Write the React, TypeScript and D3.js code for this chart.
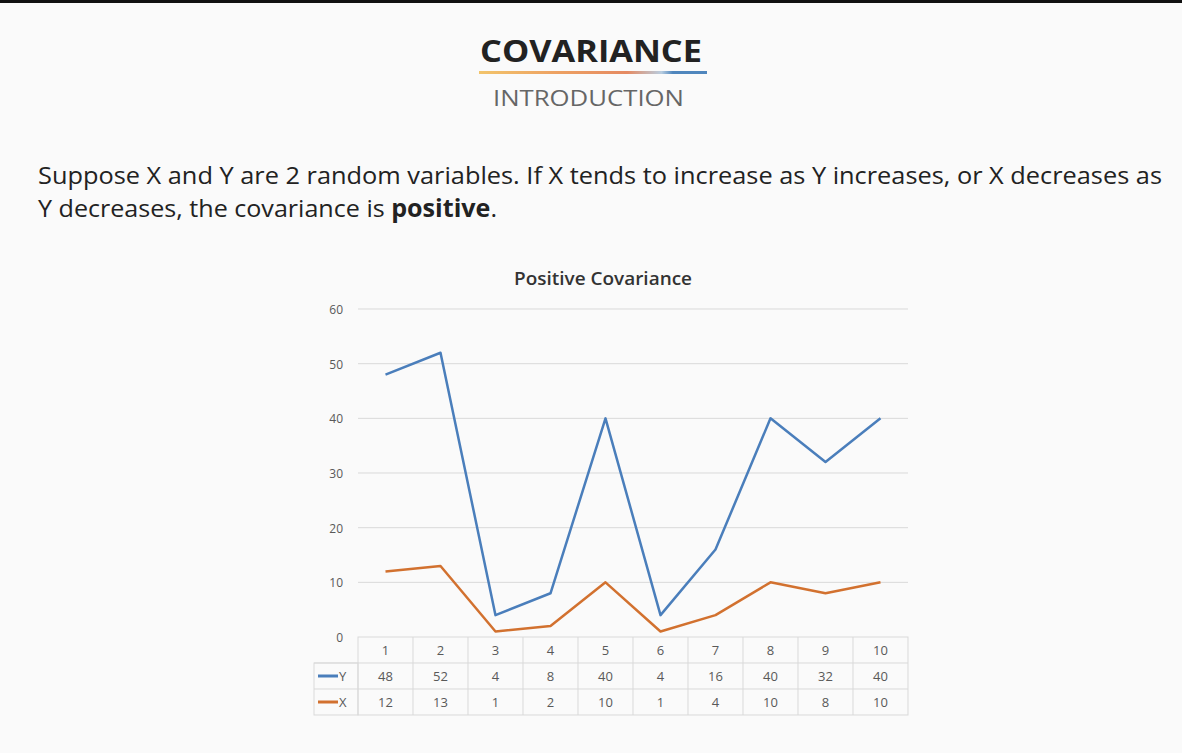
import * as d3 from "d3";

const categories = ["1", "2", "3", "4", "5", "6", "7", "8", "9", "10"];
const yValues = [48, 52, 4, 8, 40, 4, 16, 40, 32, 40];
const xValues = [12, 13, 1, 2, 10, 1, 4, 10, 8, 10];
const yTicks = [0, 10, 20, 30, 40, 50, 60];

const W = 1182;
const H = 753;
const FONT = "'Open Sans', 'Noto Sans', sans-serif";

export default function App() {
  const left = 358, right = 908, top = 309, bottom = 637;
  const xScale = d3.scaleBand<string>().domain(categories).range([left, right]);
  const yScale = d3.scaleLinear().domain([0, 60]).range([bottom, top]);
  const line = d3
    .line<number>()
    .x((_, i) => (xScale(categories[i]) ?? 0) + xScale.bandwidth() / 2)
    .y((d) => yScale(d));

  const series = [
    { name: "Y", values: yValues, color: "#4a7ebb" },
    { name: "X", values: xValues, color: "#d2712f" },
  ];
  const rowH = 26;
  const tableLeft = 314;

  return (
    <svg width={W} height={H} style={{ position: "absolute", left: 0, top: 0 }} fontFamily={FONT}>
      <defs>
        <linearGradient id="ul" x1="0" x2="1">
          <stop offset="0" stopColor="#f2c46b" />
          <stop offset="0.35" stopColor="#eda062" />
          <stop offset="0.65" stopColor="#e58a62" />
          <stop offset="0.8" stopColor="#b8cde0" />
          <stop offset="0.85" stopColor="#4f86bd" />
          <stop offset="1" stopColor="#4f86bd" />
        </linearGradient>
      </defs>
      <rect width={W} height={H} fill="#fafafa" />
      <rect width={W} height={3} fill="#111" />
      <text x={480} y={62} fontSize={31} fontWeight="bold" fill="#222" textLength={222} lengthAdjust="spacingAndGlyphs">COVARIANCE</text>
      <rect x={479} y={71} width={228} height={3} fill="url(#ul)" />
      <text x={493} y={106} fontSize={22} fill="#666" textLength={191} lengthAdjust="spacingAndGlyphs">INTRODUCTION</text>
      <text x={38} y={184} fontSize={24.5} fill="#222" textLength={1124} lengthAdjust="spacingAndGlyphs">
        Suppose X and Y are 2 random variables. If X tends to increase as Y increases, or X decreases as
      </text>
      <text x={38} y={217} fontSize={24.5} fill="#222" textLength={459} lengthAdjust="spacingAndGlyphs">
        Y decreases, the covariance is <tspan fontWeight="bold">positive</tspan>.
      </text>
      <text x={514} y={285} fontSize={18} fontWeight={600} fill="#333" textLength={178} lengthAdjust="spacingAndGlyphs">Positive Covariance</text>

      {yTicks.map((t) => (
        <g key={t}>
          {t > 0 && <line x1={left} x2={right} y1={yScale(t)} y2={yScale(t)} stroke="#d9d9d9" />}
          <text x={343} y={yScale(t) + 5} textAnchor="end" fontSize={12} fill="#595959">{t}</text>
        </g>
      ))}

      {series.map((s) => (
        <path key={s.name} d={line(s.values) ?? ""} fill="none" stroke={s.color} strokeWidth={2.5} strokeLinejoin="round" />
      ))}

      {/* data table */}
      <g stroke="#d9d9d9" fill="none">
        <rect x={left} y={bottom} width={right - left} height={rowH * 3} />
        <rect x={tableLeft} y={bottom + rowH} width={left - tableLeft} height={rowH * 2} />
        <line x1={tableLeft} x2={right} y1={bottom + rowH} y2={bottom + rowH} />
        <line x1={tableLeft} x2={right} y1={bottom + rowH * 2} y2={bottom + rowH * 2} />
        {categories.slice(1).map((c) => (
          <line key={c} x1={xScale(c)} x2={xScale(c)} y1={bottom} y2={bottom + rowH * 3} />
        ))}
      </g>
      {categories.map((c) => (
        <text key={c} x={(xScale(c) ?? 0) + xScale.bandwidth() / 2} y={bottom + 18} textAnchor="middle" fontSize={13} fill="#595959">{c}</text>
      ))}
      {series.map((s, r) => (
        <g key={s.name}>
          <line x1={318} x2={338} y1={bottom + rowH * (r + 1) + 13} y2={bottom + rowH * (r + 1) + 13} stroke={s.color} strokeWidth={3} />
          <text x={339} y={bottom + rowH * (r + 1) + 18} fontSize={13} fill="#595959">{s.name}</text>
          {s.values.map((v, i) => (
            <text key={i} x={(xScale(categories[i]) ?? 0) + xScale.bandwidth() / 2} y={bottom + rowH * (r + 1) + 18} textAnchor="middle" fontSize={13} fill="#595959">{v}</text>
          ))}
        </g>
      ))}
    </svg>
  );
}
